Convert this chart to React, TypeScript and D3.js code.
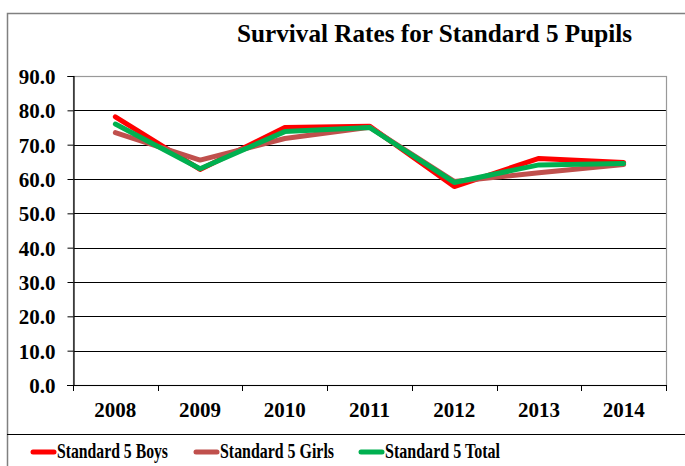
import { useEffect, useRef } from 'react';
import * as d3 from 'd3';

const years = ['2008', '2009', '2010', '2011', '2012', '2013', '2014'];
const boys = [78.1, 62.8, 75.0, 75.4, 57.8, 66.0, 64.8];
const girls = [73.5, 65.5, 71.8, 75.1, 59.3, 61.8, 64.2];
const total = [76.0, 63.0, 73.8, 75.0, 59.0, 64.1, 64.5];
const yTicks = [0, 10, 20, 30, 40, 50, 60, 70, 80, 90];

const seriesNames = ['Standard 5 Boys', 'Standard 5 Girls', 'Standard 5 Total'];
const seriesColors = ['#ff0000', '#c0504d', '#00b050'];

const W = 685;
const H = 466;
const FONT = 'Liberation Serif, Times New Roman, serif';

export default function App() {
  const svgRef = useRef<SVGSVGElement>(null);

  useEffect(() => {
    if (!svgRef.current) return;
    const svg = d3.select(svgRef.current);
    svg.selectAll('*').remove();

    const left = 73, right = 666, top = 76, bottom = 385;

    svg.append('rect').attr('width', W).attr('height', H).attr('fill', '#fff');
    // outer chart border
    svg.append('rect')
      .attr('x', 7.5).attr('y', 13.5)
      .attr('width', W).attr('height', H)
      .attr('fill', 'none').attr('stroke', '#808080').attr('stroke-width', 1.5);
    svg.append('line')
      .attr('x1', 7).attr('x2', W).attr('y1', 434.5).attr('y2', 434.5)
      .attr('stroke', '#000').attr('stroke-width', 1.2);

    svg.append('text')
      .attr('x', 237).attr('y', 42)
      .attr('font-family', FONT).attr('font-weight', 'bold').attr('font-size', 24.5)
      .attr('textLength', 395).attr('lengthAdjust', 'spacingAndGlyphs')
      .text('Survival Rates for Standard 5 Pupils');

    const x = d3.scaleBand().domain(years).range([left, right]);
    const y = d3.scaleLinear().domain([0, 90]).range([bottom, top]);

    // gridlines
    svg.append('g').selectAll('line').data(yTicks.slice(1, -1)).join('line')
      .attr('x1', left).attr('x2', right)
      .attr('y1', d => Math.round(y(d)) + 0.5).attr('y2', d => Math.round(y(d)) + 0.5)
      .attr('stroke', '#000').attr('stroke-width', 1);

    // plot area border
    svg.append('rect')
      .attr('x', left + 0.5).attr('y', top + 0.5)
      .attr('width', right - left).attr('height', bottom - top)
      .attr('fill', 'none').attr('stroke', '#999').attr('stroke-width', 1.2);

    // y axis
    const yAxis = svg.append('g')
      .attr('transform', `translate(${left + 0.5},0)`)
      .call(d3.axisLeft(y).tickValues(yTicks).tickSize(6).tickFormat(d3.format('.1f')));
    yAxis.attr('font-family', FONT).attr('font-size', 21);
    yAxis.select('.domain').attr('stroke', '#000').attr('stroke-width', 1.2);
    yAxis.selectAll('line').attr('stroke', '#000');
    yAxis.selectAll('text')
      .attr('x', -18).attr('dy', '0.35em')
      .attr('font-weight', 'bold').attr('fill', '#000');

    // x axis
    const xAxis = svg.append('g')
      .attr('transform', `translate(0,${bottom + 0.5})`)
      .call(d3.axisBottom(x).tickSize(0).tickFormat(d => d as string));
    xAxis.attr('font-family', FONT).attr('font-size', 21);
    xAxis.select('.domain').remove();
    xAxis.selectAll('text')
      .attr('y', 31.5).attr('dy', 0)
      .attr('font-weight', 'bold').attr('fill', '#000');
    const bounds = years.map(yr => x(yr) as number).concat([right]);
    svg.append('line')
      .attr('x1', left - 6).attr('x2', right)
      .attr('y1', bottom + 0.5).attr('y2', bottom + 0.5)
      .attr('stroke', '#000').attr('stroke-width', 1.2);
    svg.append('g').selectAll('line').data(bounds).join('line')
      .attr('x1', d => Math.round(d) + 0.5).attr('x2', d => Math.round(d) + 0.5)
      .attr('y1', bottom).attr('y2', bottom + 6)
      .attr('stroke', '#000');

    const line = d3.line<number>()
      .x((_, i) => (x(years[i]) as number) + x.bandwidth() / 2)
      .y(d => y(d));

    [boys, girls, total].forEach((vals, i) => {
      svg.append('path')
        .datum(vals)
        .attr('d', line)
        .attr('fill', 'none')
        .attr('stroke', seriesColors[i])
        .attr('stroke-width', 5)
        .attr('stroke-linejoin', 'round')
        .attr('stroke-linecap', 'round');
    });

    // legend (text is condensed in the original)
    const legendX = [31, 194, 359];
    const legendW = [111, 114, 115];
    const lg = svg.append('g');
    seriesNames.forEach((name, i) => {
      lg.append('line')
        .attr('x1', legendX[i] + 2).attr('x2', legendX[i] + 23)
        .attr('y1', 452).attr('y2', 452)
        .attr('stroke', seriesColors[i]).attr('stroke-width', 5).attr('stroke-linecap', 'round');
      lg.append('text')
        .attr('x', legendX[i] + 26).attr('y', 458)
        .attr('font-family', FONT).attr('font-weight', 'bold').attr('font-size', 21)
        .attr('textLength', legendW[i]).attr('lengthAdjust', 'spacingAndGlyphs')
        .text(name);
    });
  }, []);

  return (
    <svg ref={svgRef} width={W} height={H} style={{ position: 'absolute', left: 0, top: 0 }} />
  );
}
